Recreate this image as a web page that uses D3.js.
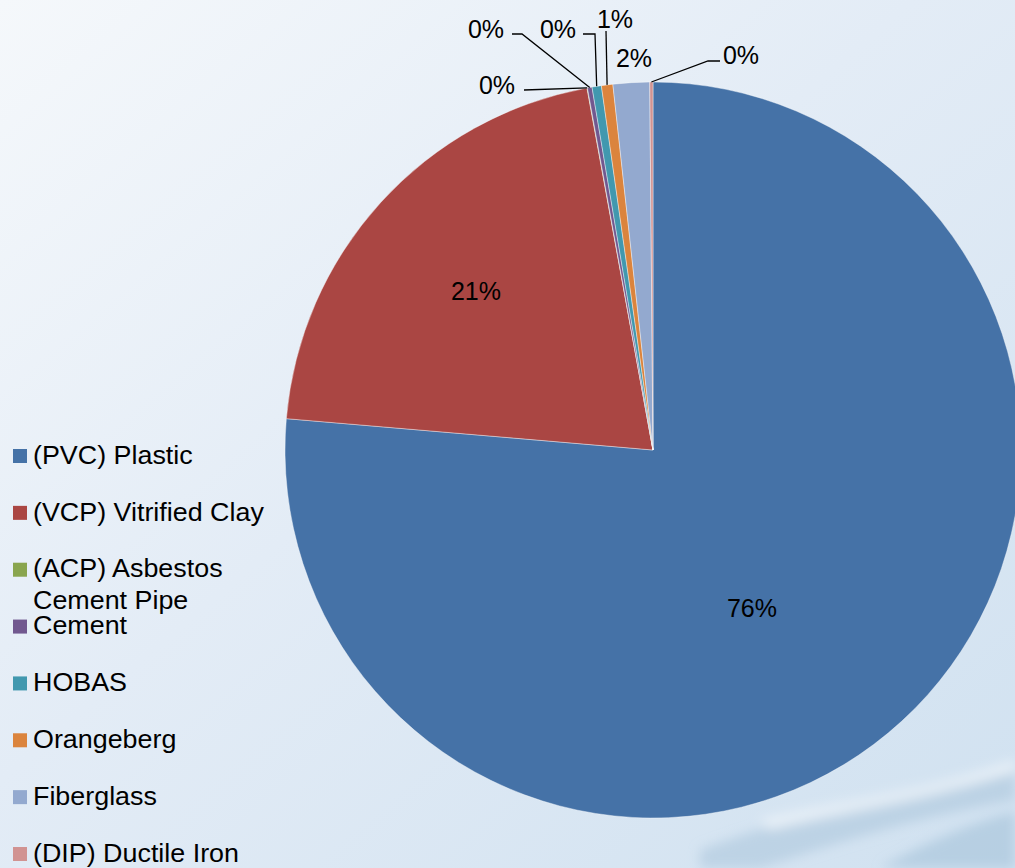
<!DOCTYPE html>
<html>
<head>
<meta charset="utf-8">
<script src="https://cdn.jsdelivr.net/npm/d3@7"></script>
<style>
  html, body { margin: 0; padding: 0; overflow: hidden; }
  svg { display: block; }
  text { font-family: "Liberation Sans", Arial, sans-serif; fill: #000; }
</style>
</head>
<body>
<svg id="chart" width="1015" height="868"></svg>
<script>
// ---- data ----
const categories = ["(PVC) Plastic", "(VCP) Vitrified Clay", "(ACP) Asbestos Cement Pipe",
  "Cement", "HOBAS", "Orangeberg", "Fiberglass", "(DIP) Ductile Iron"];
const values = [76.35, 20.77, 0.02, 0.2, 0.41, 0.5, 1.6, 0.14];
const percentLabels = ["76%", "21%", "0%", "0%", "0%", "1%", "2%", "0%"];
const colors = ["#4572A7", "#AA4643", "#89A54E", "#71588F", "#4198AF", "#DB843D", "#93A9CF", "#D19392"];

// ---- layout (not data) ----
const W = 1015, H = 868;
const cx = 653, cy = 450, R = 368;
const labelLayout = [
  { x: 752, y: 608 },
  { x: 476, y: 291 },
  { x: 497, y: 85, elbow: [[524, 90]] },
  { x: 486, y: 29, elbow: [[512, 34], [522, 34]] },
  { x: 558, y: 29, elbow: [[583, 34], [595, 34]] },
  { x: 615, y: 19, elbow: [[606, 31]] },
  { x: 634, y: 58 },
  { x: 741, y: 55, elbow: [[720, 61], [708, 61]] }
];
const legendLines = [["(PVC) Plastic"], ["(VCP) Vitrified Clay"], ["(ACP) Asbestos", "Cement Pipe"],
  ["Cement"], ["HOBAS"], ["Orangeberg"], ["Fiberglass"], ["(DIP) Ductile Iron"]];

const svg = d3.select("#chart");
const defs = svg.append("defs");

// background gradient
const bg = defs.append("linearGradient").attr("id", "bg")
  .attr("x1", "0").attr("y1", "0").attr("x2", "1").attr("y2", "1");
bg.append("stop").attr("offset", "0").attr("stop-color", "#f5f8fb");
bg.append("stop").attr("offset", "0.45").attr("stop-color", "#e3ecf6");
bg.append("stop").attr("offset", "1").attr("stop-color", "#d0e1f0");
svg.append("rect").attr("width", W).attr("height", H).attr("fill", "url(#bg)");

// water splash hints bottom right
const blur = defs.append("filter").attr("id", "blur").attr("x", "-50%").attr("y", "-50%")
  .attr("width", "200%").attr("height", "200%");
blur.append("feGaussianBlur").attr("stdDeviation", 6);
const splash = svg.append("g").attr("filter", "url(#blur)");
splash.append("path")
  .attr("d", "M700,850 C780,820 860,800 1015,770 L1015,800 C900,820 820,850 760,868 L700,868 Z")
  .attr("fill", "#a9c5da").attr("opacity", 0.55);
splash.append("path")
  .attr("d", "M880,868 C930,840 980,820 1015,812 L1015,868 Z")
  .attr("fill", "#9dbdd6").attr("opacity", 0.5);
splash.append("path")
  .attr("d", "M760,820 C840,800 930,790 1015,760 L1015,772 C930,800 850,812 770,830 Z")
  .attr("fill", "#f2f7fb").attr("opacity", 0.7);

// ---- pie ----
const pie = d3.pie().sort(null).value(d => d).startAngle(0).endAngle(2 * Math.PI);
const arcs = pie(values);
const arc = d3.arc().innerRadius(0).outerRadius(R);
const g = svg.append("g").attr("transform", `translate(${cx},${cy})`);
g.selectAll("path.slice").data(arcs).join("path")
  .attr("class", "slice")
  .attr("d", arc)
  .attr("fill", (d, i) => colors[i])
  .attr("stroke", "#ffffff").attr("stroke-opacity", 0.5).attr("stroke-width", 0.8);

// leader lines
const lineGen = d3.line();
arcs.forEach((d, i) => {
  const L = labelLayout[i];
  if (!L.elbow) return;
  const mid = (d.startAngle + d.endAngle) / 2;
  const end = [cx + R * Math.sin(mid), cy - R * Math.cos(mid)];
  svg.append("path")
    .attr("d", lineGen([...L.elbow, end]))
    .attr("fill", "none").attr("stroke", "#000").attr("stroke-width", 1.3);
});

// data labels
svg.selectAll("text.dl").data(arcs).join("text")
  .attr("class", "dl")
  .attr("x", (d, i) => labelLayout[i].x)
  .attr("y", (d, i) => labelLayout[i].y)
  .attr("dy", "0.35em")
  .attr("text-anchor", "middle")
  .attr("font-size", 25)
  .text((d, i) => percentLabels[i]);

// ---- legend ----
const legendY = d3.scaleLinear().domain([0, categories.length - 1]).range([455, 853]);
const lg = svg.append("g");
categories.forEach((c, i) => {
  const y = legendY(i);
  lg.append("rect").attr("x", 13).attr("y", y - 6).attr("width", 14).attr("height", 14)
    .attr("fill", colors[i]);
  const tg = lg.append("g").attr("transform", `translate(33,${y}) scale(1.075,1)`);
  const t = tg.append("text").attr("x", 0).attr("y", 0).attr("font-size", 25);
  legendLines[i].forEach((ln, k) => {
    t.append("tspan").attr("x", 0).attr("dy", k === 0 ? "0.35em" : "1.25em").text(ln);
  });
});
</script>
</body>
</html>
